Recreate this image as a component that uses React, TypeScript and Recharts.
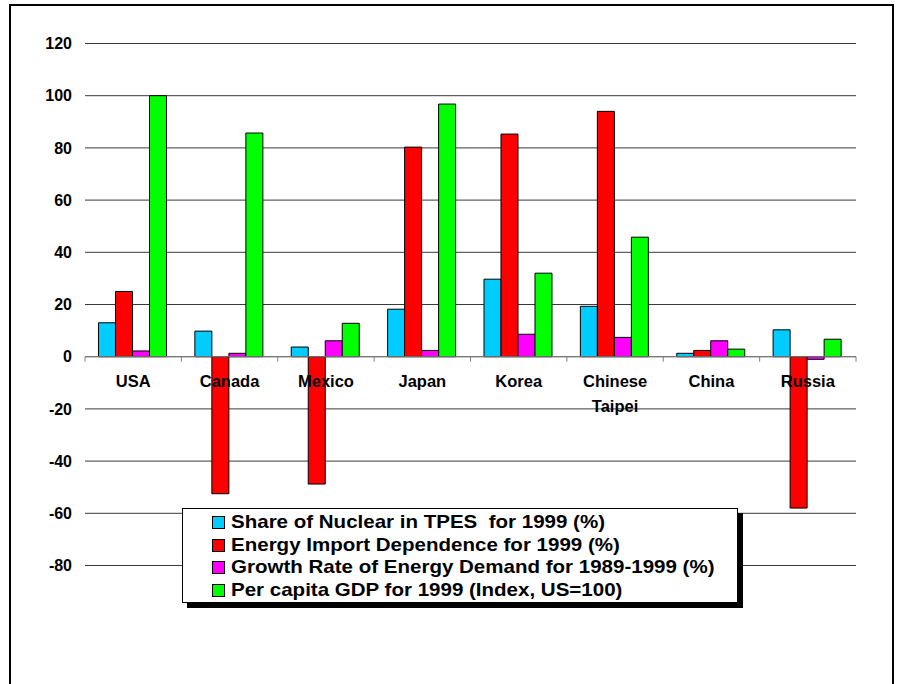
import { BarChart, Bar, XAxis, YAxis, CartesianGrid, Legend, ReferenceLine } from 'recharts';

const categories = ['USA', 'Canada', 'Mexico', 'Japan', 'Korea', 'Chinese Taipei', 'China', 'Russia'];
const nuclearShare = [13, 9.8, 3.7, 18.2, 29.7, 19.3, 1.3, 10.3];
const importDependence = [25, -52.5, -48.8, 80.3, 85.3, 94, 2.4, -58];
const demandGrowth = [2.2, 1.3, 6.1, 2.4, 8.6, 7.4, 6.1, -1];
const gdpIndex = [100, 85.7, 12.8, 96.8, 32, 45.8, 2.9, 6.7];
const yTicks = [-80, -60, -40, -20, 0, 20, 40, 60, 80, 100, 120];

const seriesNames = [
  'Share of Nuclear in TPES  for 1999 (%)',
  'Energy Import Dependence for 1999 (%)',
  'Growth Rate of Energy Demand for 1989-1999 (%)',
  'Per capita GDP for 1999 (Index, US=100)',
];

const data = categories.map((name, i) => ({
  name,
  nuclear: nuclearShare[i],
  imports: importDependence[i],
  growth: demandGrowth[i],
  gdp: gdpIndex[i],
}));

const FONT = "'Liberation Sans', Arial, sans-serif";
const W = 902;
const H = 684;
const M = { top: 43.5, right: 46, bottom: 98.5, left: 0 };
const Y_AXIS_W = 85;
const X_AXIS_H = 20;
const plotTop = M.top;
const plotH = H - M.top - M.bottom - X_AXIS_H;
const plotW = W - M.left - M.right - Y_AXIS_W;
const yMin = yTicks[0];
const yMax = yTicks[yTicks.length - 1];
const zeroY = plotTop + (yMax / (yMax - yMin)) * plotH;
const band = plotW / categories.length;

const CategoryTick = (props: any) => {
  const { x, payload, index } = props;
  const lines = String(payload.value).split(' ');
  const last = index === categories.length - 1;
  return (
    <g>
      <line x1={x - band / 2} x2={x - band / 2} y1={zeroY} y2={zeroY + 5} stroke="#808080" />
      {last && <line x1={x + band / 2} x2={x + band / 2} y1={zeroY} y2={zeroY + 5} stroke="#808080" />}
      <text x={x} y={zeroY + 30} textAnchor="middle" fontFamily={FONT} fontSize={16.5} fontWeight="bold" fill="#000">
        {lines.map((l, i) => (
          <tspan key={l} x={x} dy={i === 0 ? 0 : 25}>{l}</tspan>
        ))}
      </text>
    </g>
  );
};

const LegendBox = (props: any) => {
  const payload = [...(props.payload || [])].sort(
    (a: any, b: any) => seriesNames.indexOf(a.value) - seriesNames.indexOf(b.value)
  );
  return (
    <div
      style={{
        width: 556,
        height: 95,
        boxSizing: 'border-box',
        border: '1px solid #000',
        background: '#fff',
        boxShadow: '5px 5px 0 #000',
        padding: '2px 0 0 29px',
        fontFamily: FONT,
        fontWeight: 'bold',
        fontSize: 19,
        textAlign: 'left',
      }}
    >
      {payload.map((p: any) => (
        <div key={p.value} style={{ lineHeight: '22.7px', height: 22.7, display: 'flex', alignItems: 'center' }}>
          <span
            style={{
              display: 'inline-block',
              width: 11,
              height: 11,
              border: '1px solid #000',
              background: p.color,
              marginRight: 6,
              flex: 'none',
            }}
          />
          <span
            style={{
              whiteSpace: 'pre',
              display: 'inline-block',
              transform: 'scaleX(1.08)',
              transformOrigin: 'left center',
            }}
          >
            {p.value}
          </span>
        </div>
      ))}
    </div>
  );
};

export default function App() {
  return (
    <div style={{ position: 'absolute', left: 0, top: 0, width: W, height: H, background: '#fff', overflow: 'hidden' }}>
      <div
        style={{
          position: 'absolute',
          left: 9,
          top: 4,
          width: 885,
          height: 720,
          border: '2px solid #000',
          boxSizing: 'border-box',
        }}
      />
      <div style={{ position: 'absolute', left: 0, top: 0 }}>
        <BarChart width={W} height={H} data={data} margin={M} barCategoryGap="14%" barGap={0}>
          <CartesianGrid horizontal vertical={false} stroke="#3a3a3a" />
          <XAxis
            dataKey="name"
            height={X_AXIS_H}
            axisLine={false}
            tickLine={false}
            interval={0}
            tick={<CategoryTick />}
          />
          <YAxis
            width={Y_AXIS_W}
            domain={[yMin, yMax]}
            ticks={yTicks}
            axisLine={false}
            tickLine={false}
            tickSize={0}
            tickMargin={13}
            tick={{ fill: '#000', fontSize: 16, fontWeight: 'bold', fontFamily: FONT }}
          />
          <ReferenceLine y={0} stroke="#808080" />
          <Bar dataKey="nuclear" name={seriesNames[0]} fill="#00CCFF" stroke="#000" strokeWidth={1} isAnimationActive={false} />
          <Bar dataKey="imports" name={seriesNames[1]} fill="#FF0000" stroke="#000" strokeWidth={1} isAnimationActive={false} />
          <Bar dataKey="growth" name={seriesNames[2]} fill="#FF00FF" stroke="#000" strokeWidth={1} isAnimationActive={false} />
          <Bar dataKey="gdp" name={seriesNames[3]} fill="#00FF00" stroke="#000" strokeWidth={1} isAnimationActive={false} />
          <Legend
            layout="horizontal"
            verticalAlign="middle"
            align="center"
            content={<LegendBox />}
            wrapperStyle={{ left: 182, top: 508, width: 556, bottom: 'auto' }}
          />
        </BarChart>
      </div>
    </div>
  );
}
